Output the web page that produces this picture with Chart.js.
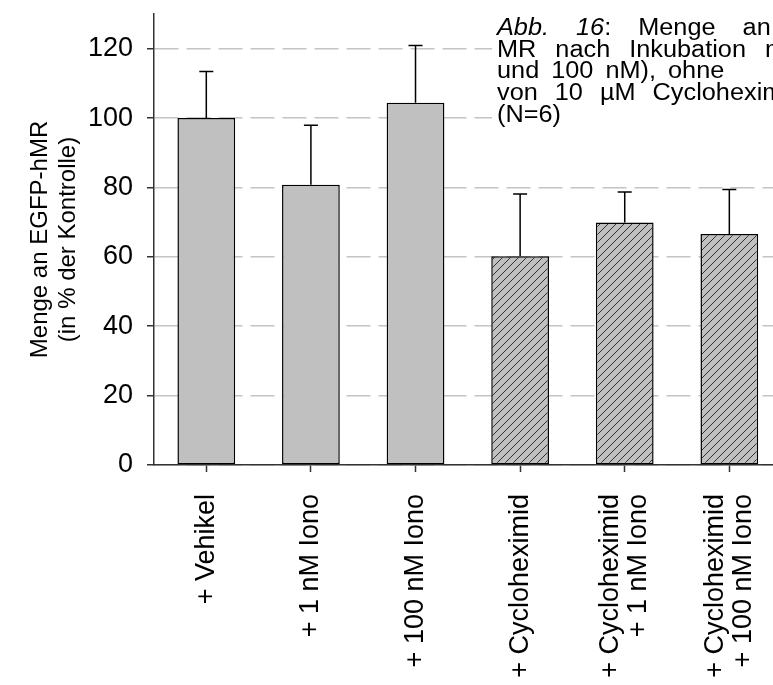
<!DOCTYPE html>
<html><head><meta charset="utf-8">
<script src="https://cdn.jsdelivr.net/npm/chart.js@4/dist/chart.umd.min.js"></script>
<style>
html,body{margin:0;padding:0;background:#fff;overflow:hidden;width:773px;height:685px}
#wrap{position:relative;width:808px;height:685px}
</style></head>
<body><div id="wrap"><canvas id="c" width="808" height="685"></canvas></div>
<script>
// ---- data ----
const categories = [
  ['+ Vehikel'],
  ['+ 1 nM Iono'],
  ['+ 100 nM Iono'],
  ['+ Cycloheximid'],
  ['+ Cycloheximid', '+ 1 nM Iono'],
  ['+ Cycloheximid', '+ 100 nM Iono']
];
const means = [100, 80.8, 104.4, 60.2, 69.9, 66.6];
const sd = [13.4, 17.1, 16.5, 17.9, 8.8, 12.8];
const hatched = [false, false, false, true, true, true];
const yTicks = [0, 20, 40, 60, 80, 100, 120];
const yTitle = ['Menge an EGFP-hMR', '(in % der Kontrolle)'];
const captionLines = [
  [['Abb.', true], ['16', true, ':'], ['Menge', false], ['an', false], ['EGFP-h', false]],
  [['MR', false], ['nach', false], ['Inkubation', false], ['mit', false]],
  [['und', false], ['100', false], ['nM),', false], ['ohne', false]],
  [['von', false], ['10', false], ['µM', false], ['Cycloheximid', false]],
  [['(N=6)', false]]
];

const FAM = "'Liberation Sans', Arial, Helvetica, sans-serif";

function makeHatch() {
  const s = 8;
  const t = document.createElement('canvas');
  t.width = s; t.height = s;
  const g = t.getContext('2d');
  g.fillStyle = '#c0c0c0';
  g.fillRect(0, 0, s, s);
  g.strokeStyle = '#222';
  g.lineWidth = 0.9;
  g.beginPath();
  g.moveTo(-1, s + 1); g.lineTo(s + 1, -1);
  g.moveTo(-1, 1); g.lineTo(1, -1);
  g.moveTo(s - 1, s + 1); g.lineTo(s + 1, s - 1);
  g.stroke();
  return document.getElementById('c').getContext('2d').createPattern(t, 'repeat');
}
const hatch = makeHatch();

const errorBars = {
  id: 'errorBars',
  afterDatasetsDraw(chart) {
    const ctx = chart.ctx;
    const meta = chart.getDatasetMeta(0);
    const y = chart.scales.y;
    ctx.save();
    ctx.strokeStyle = '#000';
    ctx.lineWidth = 1.5;
    meta.data.forEach((bar, i) => {
      const yTop = y.getPixelForValue(means[i] + sd[i]);
      ctx.beginPath();
      ctx.moveTo(bar.x, bar.y);
      ctx.lineTo(bar.x, yTop);
      ctx.moveTo(bar.x - 7, yTop);
      ctx.lineTo(bar.x + 7, yTop);
      ctx.stroke();
    });
    ctx.restore();
  }
};

// center multi-line rotated tick labels on their tick
const centerLabels = {
  id: 'centerLabels',
  beforeDraw(chart) {
    const sc = chart.scales.x;
    const items = sc.getLabelItems();
    items.forEach(it => {
      const lines = Array.isArray(it.label) ? it.label.length : 1;
      if (!it._shifted && lines > 1) {
        it.options.translation[0] -= (lines - 1) * it.font.lineHeight / 2;
        it._shifted = true;
      }
    });
  }
};

const caption = {
  id: 'caption',
  afterDraw(chart) {
    const ctx = chart.ctx;
    ctx.save();
    ctx.fillStyle = '#fff';
    ctx.fillRect(492, 0, 340, 130);
    ctx.fillStyle = '#000';
    ctx.textBaseline = 'alphabetic';
    const x0 = 497, lh = 21.7, size = 23, sx = 1.1;
    const gaps = [27, 19, 12, 17, 6];
    captionLines.forEach((words, li) => {
      let x = x0;
      const yy = 35 + li * lh;
      words.forEach(w => {
        ctx.font = (w[1] ? 'italic ' : '') + size + 'px ' + FAM;
        ctx.save(); ctx.translate(x, yy); ctx.scale(sx, 1); ctx.fillText(w[0], 0, 0); ctx.restore();
        x += ctx.measureText(w[0]).width * sx;
        if (w[2]) {
          ctx.font = size + 'px ' + FAM;
          ctx.save(); ctx.translate(x, yy); ctx.scale(sx, 1); ctx.fillText(w[2], 0, 0); ctx.restore();
          x += ctx.measureText(w[2]).width * sx;
        }
        x += gaps[li];
      });
    });
    ctx.restore();
  }
};

new Chart(document.getElementById('c'), {
  type: 'bar',
  data: {
    labels: categories,
    datasets: [{
      data: means,
      backgroundColor: hatched.map(h => h ? hatch : '#c0c0c0'),
      borderColor: '#000',
      borderWidth: 1.5,
      borderSkipped: false,
      categoryPercentage: 1,
      barPercentage: 0.552
    }]
  },
  options: {
    responsive: false,
    animation: false,
    devicePixelRatio: 1,
    layout: { padding: { top: 14, right: 6, left: 0, bottom: 0 } },
    plugins: { legend: { display: false }, tooltip: { enabled: false } },
    scales: {
      x: {
        grid: { display: true, drawOnChartArea: false, offset: false, tickLength: 7, tickColor: '#333', tickWidth: 1.5 },
        border: { display: true, color: '#333', width: 1.5 },
        ticks: { font: { size: 27, family: FAM, lineHeight: 1.04 }, color: '#000', minRotation: 90, maxRotation: 90, padding: 22, autoSkip: false },
        afterFit: s => { s.height = 220; }
      },
      y: {
        min: 0, max: 130,
        afterBuildTicks: s => { s.ticks = yTicks.map(v => ({ value: v })); },
        grid: { color: '#c4c4c4', lineWidth: 1.5, tickBorderDash: [], tickColor: '#333', tickWidth: 1.5, tickLength: 7 },
        border: { display: true, color: '#333', width: 1.5, dash: [24, 8] },
        ticks: { font: { size: 27, family: FAM }, color: '#000', padding: 14 },
        title: { display: true, text: yTitle, font: { size: 24, family: FAM, lineHeight: 1.17 }, color: '#000', padding: { top: 26, bottom: 0 } },
        afterFit: s => { s.width = 154; s.paddingTop = 0; s.paddingBottom = 0; }
      }
    }
  },
  plugins: [errorBars, centerLabels, caption]
});
</script>
</body></html>
